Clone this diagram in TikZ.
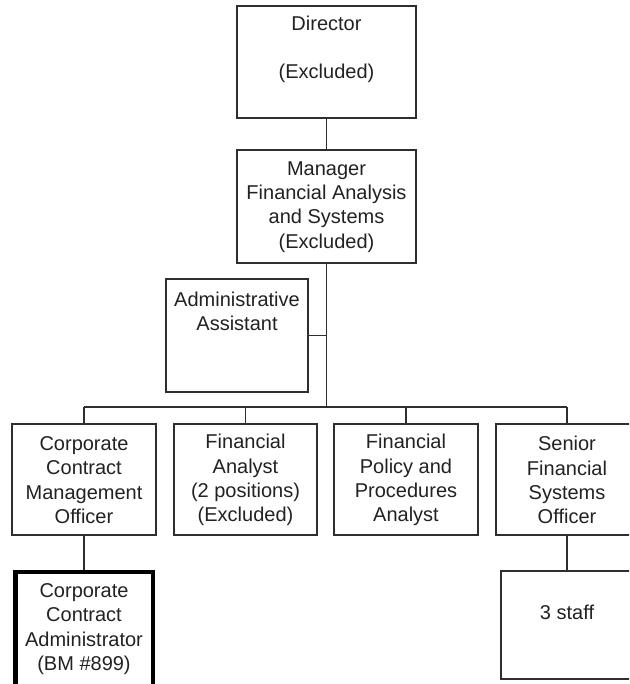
\documentclass[tikz,border=0pt]{standalone}
\usepackage{fontspec}
\setmainfont{Liberation Sans}
\definecolor{ln}{HTML}{2E2E2E}
\definecolor{tx}{HTML}{222222}
\begin{document}
\begin{tikzpicture}[x=1pt,y=-1pt,
  box/.style={draw=ln,line width=1.1pt,rectangle,inner sep=0pt},
  thickbox/.style={draw=black,line width=4.5pt,rectangle,inner sep=0pt},
  lbl/.style={text=tx,align=center,inner sep=0pt,font=\fontsize{20}{24.3}\selectfont},
  conn/.style={draw=ln,line width=1.1pt}]
\useasboundingbox (0,0) rectangle (629,684);
\clip (0,0) rectangle (629,684);
\fill[white] (0,0) rectangle (629,684);
% boxes
\node[box,minimum width=179pt,minimum height=112pt] (dir) at (326.5,62) {};
\node[box,minimum width=179pt,minimum height=113pt] (mgr) at (326.5,206.5) {};
\node[box,minimum width=142pt,minimum height=113pt] (adm) at (237,335.5) {};
\node[box,minimum width=144pt,minimum height=111pt] (ccmo) at (84,479.5) {};
\node[box,minimum width=143pt,minimum height=111pt] (fa) at (245.5,479.5) {};
\node[box,minimum width=144pt,minimum height=111pt] (fpp) at (406,479.5) {};
\node[box,minimum width=142pt,minimum height=111pt] (sfso) at (567,479.5) {};
\node[thickbox,minimum width=137.5pt,minimum height=125pt] (cca) at (84,634.5) {};
\node[box,minimum width=132pt,minimum height=108pt] (staff) at (567,625) {};
% labels
\node[lbl] (dirt) at (326.5,49.5) {Director\\\mbox{}\\(Excluded)};
\node[lbl] (mgrt) at (326.5,207) {Manager\\Financial Analysis\\and Systems\\(Excluded)};
\node[lbl] (admt) at (237,311) {Administrative\\Assistant};
\node[lbl] (ccmot) at (84,480) {Corporate\\Contract\\Management\\Officer};
\node[lbl] (fat) at (245.5,480) {Financial\\Analyst\\(2 positions)\\(Excluded)};
\node[lbl] (fppt) at (406,480) {Financial\\Policy and\\Procedures\\Analyst};
\node[lbl] (sfsot) at (567,480) {Senior\\Financial\\Systems\\Officer};
\node[lbl] (ccat) at (84,629) {Corporate\\Contract\\Administrator\\(BM \#899)};
\node[lbl] (stafft) at (567,612) {3 staff};
% connectors
\coordinate (j) at (326.5,407);
\coordinate (jl) at (84,407);
\coordinate (jr) at (567,407);
\draw[conn] (dir.south) -- (mgr.north);
\draw[conn] (mgr.south) -- (j);
\draw[conn] (adm.east) -- (adm.east -| j);
\draw[conn] (jl) -- (jr);
\draw[conn] (jl) -- (ccmo.north);
\draw[conn] (fa.north |- j) -- (fa.north);
\draw[conn] (fpp.north |- j) -- (fpp.north);
\draw[conn] (jr) -- (sfso.north);
\draw[conn] (ccmo.south) -- (cca.north);
\draw[conn] (sfso.south) -- (staff.north);
\end{tikzpicture}
\end{document}
